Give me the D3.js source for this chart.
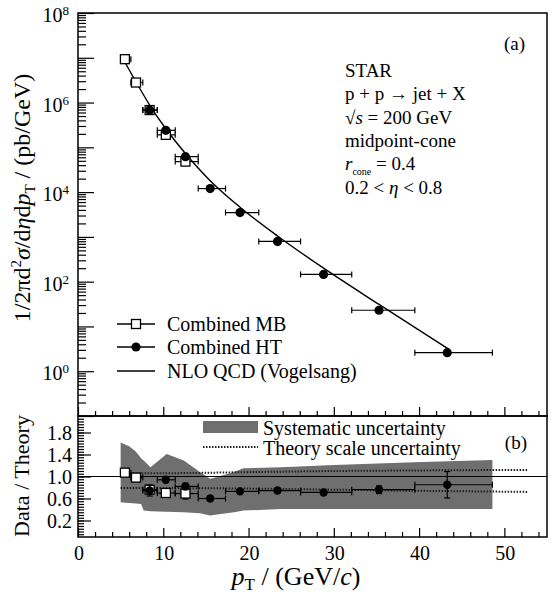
<!DOCTYPE html>
<html>
<head>
	<title>STAR inclusive jet cross section</title>
	<script src="https://d3js.org/d3.v7.min.js"></script>
	<style>
		body { margin: 0; background: #fff; }
		svg text { font-family: "Liberation Serif", "Times New Roman", serif; fill: #000; }
		.axis path { display: none; }
		.axis line { stroke: #000; stroke-width: 1.2; }
	</style>
</head>
<body>
<svg width="557" height="596"></svg>

<script>
	// pT bin edges (GeV/c)
	var binLo = [5.0, 6.2, 7.6, 9.3, 11.4, 14.1, 17.3, 21.2, 26.1, 32.1, 39.5];
	var binHi = [6.2, 7.6, 9.3, 11.4, 14.1, 17.3, 21.2, 26.1, 32.1, 39.5, 48.6];

	// Combined MB (open squares), bins 0..4
	var mbBin = [0, 1, 2, 3, 4];
	var mbPt = [5.5, 6.8, 8.4, 10.3, 12.6];
	var mbXsec = [9.3e6, 2.8e6, 6.8e5, 1.9e5, 4.8e4];
	var mbRatio = [1.07, 0.98, 0.76, 0.70, 0.69];
	var mbRatioErr = [0.03, 0.04, 0.06, 0.08, 0.10];

	// Combined HT (filled circles), bins 2..10
	var htBin = [2, 3, 4, 5, 6, 7, 8, 9, 10];
	var htPt = [8.4, 10.3, 12.6, 15.5, 19.0, 23.4, 28.8, 35.3, 43.3];
	var htXsec = [6.8e5, 2.4e5, 6.2e4, 1.2e4, 3.5e3, 790, 145, 23, 2.6];
	var htRatio = [0.745, 0.94, 0.82, 0.60, 0.73, 0.745, 0.71, 0.76, 0.85];
	var htRatioErr = [0.10, 0.05, 0.06, 0.03, 0.03, 0.03, 0.04, 0.07, 0.24];

	// NLO QCD (Vogelsang) curve
	var nloPt = [5.5, 6.8, 8.4, 10.3, 12.6, 15.5, 19.0, 23.4, 28.8, 35.3, 43.6];
	var nloXsec = [8.0e6, 2.9e6, 8.8e5, 2.6e5, 7.3e4, 1.8e4, 4.6e3, 1.05e3, 200, 31, 3.0];

	// systematic uncertainty band on data/theory
	var sysPt = [5.0, 6.0, 6.8, 7.4, 7.7, 8.5, 10.4, 12.4, 14.3, 15.5, 16.3, 18.3, 19.4, 23.8, 30, 39.4, 48.6];
	var sysHi = [1.62, 1.55, 1.45, 1.33, 1.29, 1.17, 1.41, 1.29, 1.08, 0.96, 0.99, 1.08, 1.15, 1.17, 1.21, 1.26, 1.30];
	var sysLo = [0.53, 0.52, 0.51, 0.50, 0.38, 0.37, 0.36, 0.35, 0.33, 0.29, 0.31, 0.35, 0.38, 0.41, 0.41, 0.41, 0.41];

	// theory scale uncertainty (dotted)
	var thPt = [5.0, 10, 20, 30, 40, 52.7];
	var thHi = [1.06, 1.06, 1.08, 1.10, 1.11, 1.12];
	var thLo = [0.79, 0.79, 0.78, 0.76, 0.74, 0.72];

	// tick values
	var xMajor = [0, 10, 20, 30, 40, 50];
	var ratioLabels = [0.2, 0.6, 1.0, 1.4, 1.8];

	var svg = d3.select("svg");
	// panel edges (note: "top" is reserved on window, so prefixed names)
	var pLeft = 78, pRight = 547, pTop = 13, pMid = 416, pBottom = 537;

	var x = d3.scaleLinear().domain([0, 55]).range([pLeft, pRight]);
	var yTop = d3.scaleLog().domain([0.1, 1e8]).range([pMid, pTop]);
	var yBot = d3.scaleLinear().domain([-0.1, 2.1]).range([pBottom, pMid]);

	var xMinor = d3.range(0, 55.01, 2).filter(function(v) { return v % 10 !== 0; });
	var decades = d3.range(-1, 9).map(function(d) { return Math.pow(10, d); });
	var logMinor = [];
	d3.range(-1, 8).forEach(function(d) {
		for (var k = 2; k <= 9; k++) logMinor.push(k * Math.pow(10, d));
	});
	var ratioMinor = d3.range(-0.05, 2.06, 0.05).map(function(v) { return Math.round(v * 100) / 100; });

	// ---------- lower panel: band and theory lines ----------
	var band = d3.area()
		.x(function(d, i) { return x(sysPt[i]); })
		.y0(function(d, i) { return yBot(sysLo[i]); })
		.y1(function(d, i) { return yBot(sysHi[i]); });
	svg.append("path")
		.attr("d", band(sysPt))
		.attr("fill", "#6f6f6f");

	var thLine = function(arr) {
		return d3.line()
			.x(function(d, i) { return x(thPt[i]); })
			.y(function(d, i) { return yBot(arr[i]); })
			.curve(d3.curveMonotoneX)(thPt);
	};
	[thHi, thLo].forEach(function(arr) {
		svg.append("path")
			.attr("d", thLine(arr))
			.attr("fill", "none")
			.attr("stroke", "#222")
			.attr("stroke-width", 2)
			.attr("stroke-dasharray", "1.5,1.5");
	});

	// unity line
	svg.append("line")
		.attr("x1", pLeft).attr("x2", pRight)
		.attr("y1", yBot(1)).attr("y2", yBot(1))
		.attr("stroke", "#000").attr("stroke-width", 1.2);

	// ---------- upper panel: NLO curve ----------
	svg.append("path")
		.attr("d", d3.line()
			.x(function(d, i) { return x(nloPt[i]); })
			.y(function(d, i) { return yTop(nloXsec[i]); })
			.curve(d3.curveMonotoneX)(nloPt))
		.attr("fill", "none")
		.attr("stroke", "#000")
		.attr("stroke-width", 1.4);

	// error bars helper
	function xBar(g, lo, hi, yy) {
		g.append("line").attr("x1", x(lo)).attr("x2", x(hi)).attr("y1", yy).attr("y2", yy)
			.attr("stroke", "#000").attr("stroke-width", 1.2);
		[lo, hi].forEach(function(v) {
			g.append("line").attr("x1", x(v)).attr("x2", x(v)).attr("y1", yy - 3).attr("y2", yy + 3)
				.attr("stroke", "#000").attr("stroke-width", 1.2);
		});
	}
	function yBar(g, xx, y1, y2) {
		g.append("line").attr("x1", xx).attr("x2", xx).attr("y1", y1).attr("y2", y2)
			.attr("stroke", "#000").attr("stroke-width", 1.2);
		[y1, y2].forEach(function(v) {
			g.append("line").attr("x1", xx - 3).attr("x2", xx + 3).attr("y1", v).attr("y2", v)
				.attr("stroke", "#000").attr("stroke-width", 1.2);
		});
	}

	var marks = svg.append("g");

	// MB points, upper and lower
	mbPt.forEach(function(p, i) {
		var b = mbBin[i];
		xBar(marks, binLo[b], binHi[b], yTop(mbXsec[i]));
		xBar(marks, binLo[b], binHi[b], yBot(mbRatio[i]));
		yBar(marks, x(p), yBot(mbRatio[i] + mbRatioErr[i]), yBot(mbRatio[i] - mbRatioErr[i]));
	});
	marks.selectAll(".mbTop")
		.data(mbPt).enter().append("rect")
		.attr("x", function(d) { return x(d) - 4.5; })
		.attr("y", function(d, i) { return yTop(mbXsec[i]) - 4.5; })
		.attr("width", 9).attr("height", 9)
		.attr("fill", "#fff").attr("stroke", "#000").attr("stroke-width", 1.3);
	marks.selectAll(".mbBot")
		.data(mbPt).enter().append("rect")
		.attr("x", function(d) { return x(d) - 4.5; })
		.attr("y", function(d, i) { return yBot(mbRatio[i]) - 4.5; })
		.attr("width", 9).attr("height", 9)
		.attr("fill", "#fff").attr("stroke", "#000").attr("stroke-width", 1.3);

	// HT points, upper and lower
	htPt.forEach(function(p, i) {
		var b = htBin[i];
		xBar(marks, binLo[b], binHi[b], yTop(htXsec[i]));
		xBar(marks, binLo[b], binHi[b], yBot(htRatio[i]));
		yBar(marks, x(p), yBot(htRatio[i] + htRatioErr[i]), yBot(htRatio[i] - htRatioErr[i]));
	});
	marks.selectAll(".htTop")
		.data(htPt).enter().append("circle")
		.attr("cx", function(d) { return x(d); })
		.attr("cy", function(d, i) { return yTop(htXsec[i]); })
		.attr("r", 4.6).attr("fill", "#000");
	marks.selectAll(".htBot")
		.data(htPt).enter().append("circle")
		.attr("cx", function(d) { return x(d); })
		.attr("cy", function(d, i) { return yBot(htRatio[i]); })
		.attr("r", 4.2).attr("fill", "#000");

	// ---------- axes ----------
	// upper y, log
	svg.append("g").attr("class", "axis").attr("transform", "translate(" + pLeft + ",0)")
		.call(d3.axisLeft(yTop).tickValues(decades).tickSize(-16).tickSizeOuter(0).tickFormat(""));
	svg.append("g").attr("class", "axis").attr("transform", "translate(" + pLeft + ",0)")
		.call(d3.axisLeft(yTop).tickValues(logMinor).tickSize(-8).tickSizeOuter(0).tickFormat(""));

	[0, 2, 4, 6, 8].forEach(function(e) {
		var t = svg.append("text")
			.attr("x", 69).attr("y", yTop(Math.pow(10, e)) + 9)
			.attr("text-anchor", "end")
			.style("font-size", "20px");
		t.append("tspan").text("10");
		t.append("tspan").attr("dy", -7).style("font-size", "13px").text(e);
	});

	// lower y, linear
	svg.append("g").attr("class", "axis").attr("transform", "translate(" + pLeft + ",0)")
		.call(d3.axisLeft(yBot).tickValues(ratioLabels).tickSize(-13).tickSizeOuter(0).tickFormat(""));
	svg.append("g").attr("class", "axis").attr("transform", "translate(" + pLeft + ",0)")
		.call(d3.axisLeft(yBot).tickValues(ratioMinor).tickSize(-6).tickSizeOuter(0).tickFormat(""));
	ratioLabels.forEach(function(v) {
		svg.append("text")
			.attr("x", 72).attr("y", yBot(v) + 7)
			.attr("text-anchor", "end")
			.style("font-size", "20px")
			.text(d3.format(".1f")(v));
	});

	// x ticks, pointing up, on both panel bottoms
	[pMid, pBottom].forEach(function(yy) {
		svg.append("g").attr("class", "axis").attr("transform", "translate(0," + yy + ")")
			.call(d3.axisBottom(x).tickValues(xMajor).tickSize(-9).tickSizeOuter(0).tickFormat(""));
		svg.append("g").attr("class", "axis").attr("transform", "translate(0," + yy + ")")
			.call(d3.axisBottom(x).tickValues(xMinor).tickSize(-5).tickSizeOuter(0).tickFormat(""));
	});
	xMajor.forEach(function(v) {
		svg.append("text")
			.attr("x", x(v) + 1).attr("y", 560)
			.attr("text-anchor", "middle")
			.style("font-size", "20px")
			.text(v);
	});

	// frames
	svg.append("rect").attr("x", pLeft).attr("y", pTop).attr("width", pRight - pLeft).attr("height", pMid - pTop)
		.attr("fill", "none").attr("stroke", "#000").attr("stroke-width", 1.5);
	svg.append("rect").attr("x", pLeft).attr("y", pMid).attr("width", pRight - pLeft).attr("height", pBottom - pMid)
		.attr("fill", "none").attr("stroke", "#000").attr("stroke-width", 1.5);

	// ---------- axis titles ----------
	var xt = svg.append("text").attr("x", 296).attr("y", 585).attr("text-anchor", "middle")
		.style("font-size", "26px");
	xt.append("tspan").style("font-style", "italic").text("p");
	xt.append("tspan").attr("dy", 5).style("font-size", "17px").text("T");
	xt.append("tspan").attr("dy", -5).text(" / (GeV/");
	xt.append("tspan").style("font-style", "italic").text("c");
	xt.append("tspan").text(")");

	var yt = svg.append("text")
		.attr("transform", "translate(30,198) rotate(-90)")
		.attr("text-anchor", "middle")
		.style("font-size", "24px");
	yt.append("tspan").text("1/2\u03c0d");
	yt.append("tspan").attr("dy", -9).style("font-size", "15px").text("2");
	yt.append("tspan").attr("dy", 9).style("font-style", "italic").text("\u03c3");
	yt.append("tspan").text("/d");
	yt.append("tspan").style("font-style", "italic").text("\u03b7");
	yt.append("tspan").text("d");
	yt.append("tspan").style("font-style", "italic").text("p");
	yt.append("tspan").attr("dy", 5).style("font-size", "15px").text("T");
	yt.append("tspan").attr("dy", -5).text(" / (pb/GeV)");

	svg.append("text")
		.attr("transform", "translate(29,476) rotate(-90)")
		.attr("text-anchor", "middle")
		.style("font-size", "22px")
		.text("Data / Theory");

	// ---------- annotations ----------
	svg.append("text").attr("x", 525).attr("y", 50).attr("text-anchor", "end")
		.style("font-size", "19px").text("(a)");
	svg.append("text").attr("x", 527).attr("y", 449).attr("text-anchor", "end")
		.style("font-size", "19px").text("(b)");

	var info = svg.append("g").style("font-size", "19px");
	var ix = 345, iy = [77, 100, 124, 147, 170, 194];
	info.append("text").attr("x", ix).attr("y", iy[0]).text("STAR");
	info.append("text").attr("x", ix).attr("y", iy[1]).text("p + p \u2192 jet + X");
	var s = info.append("text").attr("x", ix).attr("y", iy[2]);
	s.append("tspan").text("\u221a");
	s.append("tspan").style("font-style", "italic").text("s");
	s.append("tspan").text(" = 200 GeV");
	info.append("text").attr("x", ix).attr("y", iy[3]).text("midpoint-cone");
	var r = info.append("text").attr("x", ix).attr("y", iy[4]);
	r.append("tspan").style("font-style", "italic").text("r");
	r.append("tspan").attr("dy", 5).style("font-size", "10px").text("cone");
	r.append("tspan").attr("dy", -5).text(" = 0.4");
	var e = info.append("text").attr("x", ix).attr("y", iy[5]);
	e.append("tspan").text("0.2 < ");
	e.append("tspan").style("font-style", "italic").text("\u03b7");
	e.append("tspan").text(" < 0.8");

	// ---------- legends ----------
	var lg = svg.append("g");
	var ly = [324, 347, 371];
	ly.forEach(function(yy) {
		lg.append("line").attr("x1", 117).attr("x2", 155).attr("y1", yy).attr("y2", yy)
			.attr("stroke", "#000").attr("stroke-width", 1.3);
	});
	lg.append("rect").attr("x", 131.5).attr("y", ly[0] - 4.5).attr("width", 9).attr("height", 9)
		.attr("fill", "#fff").attr("stroke", "#000").attr("stroke-width", 1.3);
	lg.append("circle").attr("cx", 136).attr("cy", ly[1]).attr("r", 4.6).attr("fill", "#000");
	["Combined MB", "Combined HT", "NLO QCD (Vogelsang)"].forEach(function(t, i) {
		lg.append("text").attr("x", 167).attr("y", ly[i] + 7).style("font-size", "20px").text(t);
	});

	lg.append("rect").attr("x", 203).attr("y", 421).attr("width", 55).attr("height", 12)
		.attr("fill", "#6f6f6f");
	lg.append("line").attr("x1", 203).attr("x2", 258).attr("y1", 447).attr("y2", 447)
		.attr("stroke", "#222").attr("stroke-width", 2).attr("stroke-dasharray", "1.5,1.5");
	lg.append("text").attr("x", 263).attr("y", 435).style("font-size", "20px").text("Systematic uncertainty");
	lg.append("text").attr("x", 263).attr("y", 455).style("font-size", "20px").text("Theory scale uncertainty");
</script>
</body>
</html>
